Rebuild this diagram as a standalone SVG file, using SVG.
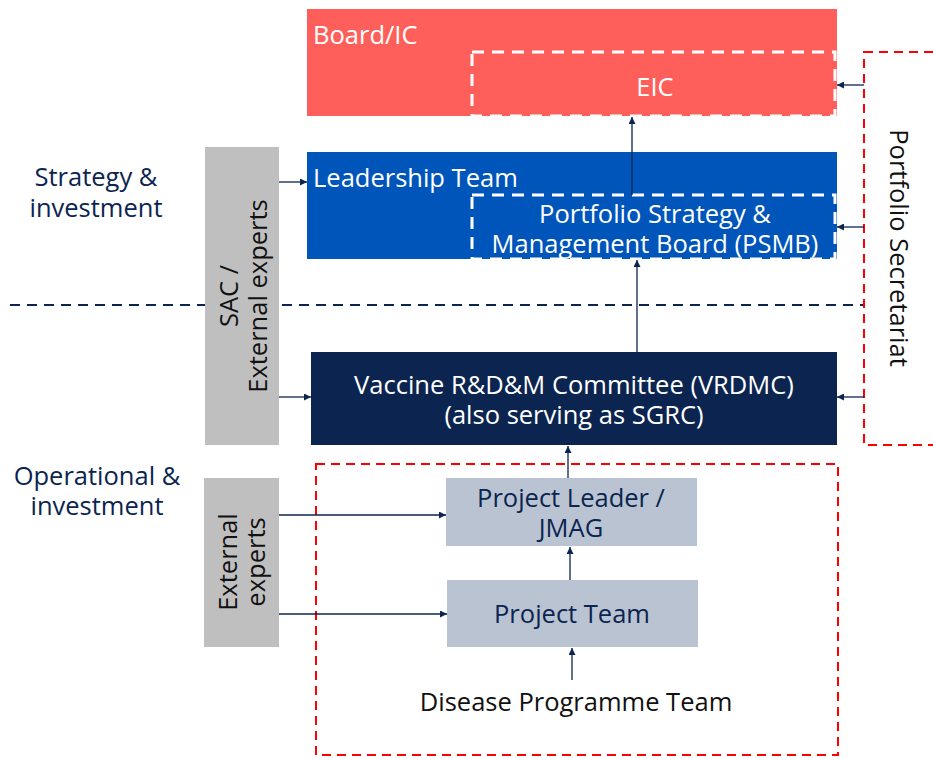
<svg xmlns="http://www.w3.org/2000/svg" width="933" height="758" viewBox="0 0 933 758">
<defs>
<marker id="ah" viewBox="0 0 10 10" refX="10" refY="5" markerWidth="7" markerHeight="7" markerUnits="userSpaceOnUse" orient="auto">
<path d="M0,0 L10,5 L0,10 z" fill="#0B2550"/>
</marker>
<style>
text{font-family:"Open Sans","Liberation Sans",Arial,sans-serif;font-size:25.5px;}
.w{fill:#fff;}
.n{fill:#0B2550;}
.k{fill:#111;}
.dw{fill:none;stroke:#fff;stroke-width:3;stroke-dasharray:12 8;}
.dr{fill:none;stroke:#F00;stroke-width:2;stroke-dasharray:9 6;}
.c{stroke:#0B2550;stroke-width:1.3;fill:none;marker-end:url(#ah);}
.gray{fill:#BFBFBF;}
.lb{fill:#B9C3D1;}
</style>
</defs>
<rect width="933" height="758" fill="#fff"/>

<g id="divider">
<line x1="10" y1="305" x2="864" y2="305" stroke="#0B2550" stroke-width="2" stroke-dasharray="10 7"/>
</g>

<g id="labels">
<text class="n" x="96" y="186" text-anchor="middle">Strategy &amp;</text>
<text class="n" x="96" y="217" text-anchor="middle">investment</text>
<text class="n" x="97" y="485" text-anchor="middle">Operational &amp;</text>
<text class="n" x="97" y="515" text-anchor="middle">investment</text>
</g>

<g id="board">
<rect x="307" y="9" width="530" height="107" fill="#FF5F5A"/>
<text class="w" x="313" y="44">Board/IC</text>
</g>
<g id="eic">
<rect class="dw" x="472" y="52" width="363" height="64"/>
<text class="w" x="655" y="96" text-anchor="middle">EIC</text>
</g>

<g id="leadership">
<rect x="307" y="152" width="530" height="107" fill="#0055BB"/>
<text class="w" x="313" y="187">Leadership Team</text>
</g>
<g id="psmb">
<rect class="dw" x="472" y="195" width="363" height="64"/>
<text class="w" x="655" y="223" text-anchor="middle">Portfolio Strategy &amp;</text>
<text class="w" x="655" y="253" text-anchor="middle">Management Board (PSMB)</text>
</g>

<g id="sac">
<rect class="gray" x="205" y="147" width="74" height="298"/>
<text class="k" transform="translate(242,296) rotate(-90)" text-anchor="middle"><tspan x="0" y="-4">SAC /</tspan><tspan x="0" y="25">External experts</tspan></text>
</g>

<g id="vrdmc">
<rect x="311" y="352" width="526" height="93" fill="#0B2550"/>
<text class="w" x="574" y="394" text-anchor="middle">Vaccine R&amp;D&amp;M Committee (VRDMC)</text>
<text class="w" x="574" y="424" text-anchor="middle">(also serving as SGRC)</text>
</g>

<g id="secretariat">
<rect class="dr" x="864" y="52" width="80" height="393"/>
<text class="k" transform="translate(890,248) rotate(90)" text-anchor="middle" y="0">Portfolio Secretariat</text>
</g>

<g id="project-area">
<rect class="dr" x="316" y="464" width="522" height="291"/>
</g>

<g id="external">
<rect class="gray" x="204" y="478" width="75" height="169"/>
<text class="k" transform="translate(242,562) rotate(-90)" text-anchor="middle"><tspan x="0" y="-5">External</tspan><tspan x="0" y="23">experts</tspan></text>
</g>

<g id="project-leader">
<rect class="lb" x="446" y="478" width="251" height="68"/>
<text class="n" x="571" y="507" text-anchor="middle">Project Leader /</text>
<text class="n" x="571" y="537" text-anchor="middle">JMAG</text>
</g>

<g id="project-team">
<rect class="lb" x="447" y="580" width="251" height="67"/>
<text class="n" x="572" y="623" text-anchor="middle">Project Team</text>
</g>

<g id="disease">
<text class="k" x="576" y="711" text-anchor="middle">Disease Programme Team</text>
</g>

<g id="connectors">
<line class="c" x1="632" y1="195" x2="632" y2="117"/>
<line class="c" x1="637" y1="352" x2="637" y2="260"/>
<line class="c" x1="279" y1="182" x2="307" y2="182"/>
<line class="c" x1="279" y1="397" x2="311" y2="397"/>
<line class="c" x1="864" y1="85" x2="837" y2="85"/>
<line class="c" x1="864" y1="227" x2="837" y2="227"/>
<line class="c" x1="864" y1="397" x2="837" y2="397"/>
<line class="c" x1="568" y1="478" x2="568" y2="446"/>
<line class="c" x1="570" y1="580" x2="570" y2="547"/>
<line class="c" x1="572" y1="680" x2="572" y2="648"/>
<line class="c" x1="279" y1="515" x2="446" y2="515"/>
<line class="c" x1="279" y1="614" x2="447" y2="614"/>
</g>
</svg>
